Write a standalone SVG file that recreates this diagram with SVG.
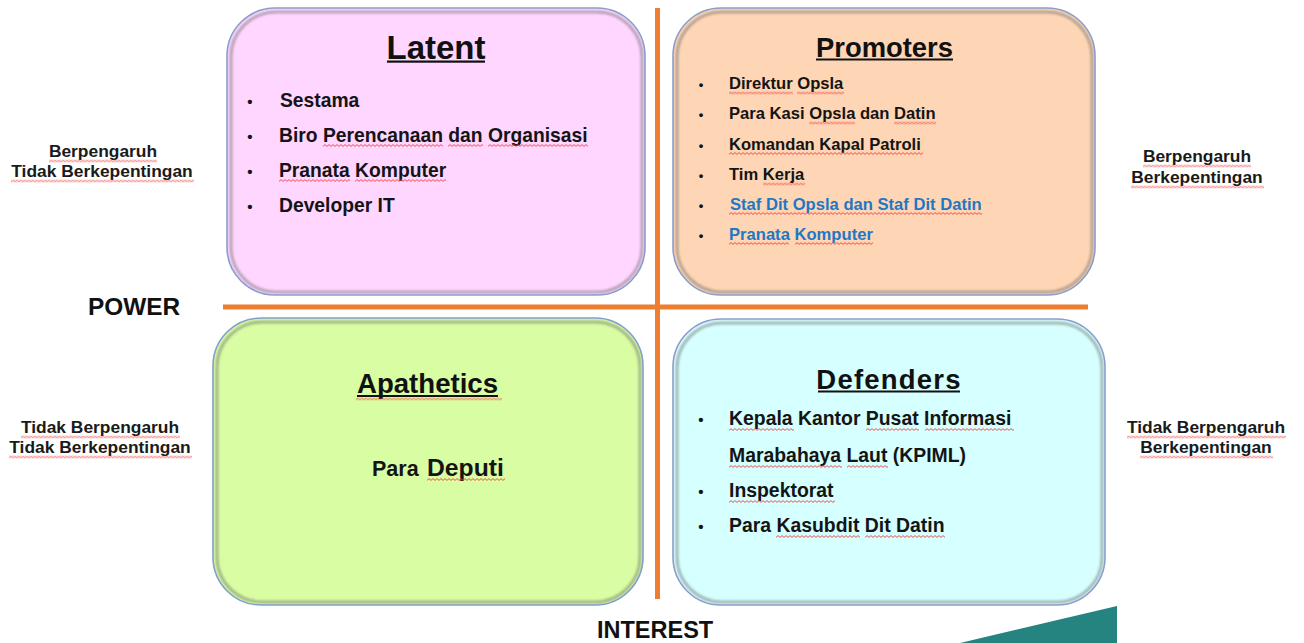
<svg xmlns="http://www.w3.org/2000/svg" width="1304" height="643" viewBox="0 0 1304 643">
  <defs>
    <pattern id="wavy" width="4" height="3" patternUnits="userSpaceOnUse">
      <path d="M0,2.4 L2,0.6 L4,2.4" fill="none" stroke="#f23c3c" stroke-width="0.9"/>
    </pattern>
    <filter id="soft" x="-5%" y="-5%" width="110%" height="110%">
      <feGaussianBlur stdDeviation="1.3"/>
    </filter>
    <style>
      .box-edge { fill: none; stroke: #8a9dcc; stroke-width: 1.6; }
      .box-inner { fill: none; stroke: #6f6f6f; stroke-opacity: 0.5; stroke-width: 3; filter: url(#soft); }
      .title { font-family: "Liberation Sans", Arial, sans-serif; font-weight: bold; fill: #111; text-anchor: middle; }
      .item { font-family: "Liberation Sans", Arial, sans-serif; font-weight: bold; fill: #141414; }
      .blue { fill: #1f78c4; }
      .bullet { font-family: "Liberation Sans", Arial, sans-serif; font-weight: bold; fill: #141414; text-anchor: middle; }
      .side { font-family: "Liberation Sans", Arial, sans-serif; font-weight: bold; font-size: 17.4px; fill: #1a1a1a; text-anchor: middle; }
      .axis { font-family: "Liberation Sans", Arial, sans-serif; font-weight: bold; fill: #111; }
      .uline { fill: #111; }
      .axisline { stroke: #ed7d31; fill: none; }
    </style>
  </defs>

  <rect width="1304" height="643" fill="#ffffff"/>

  <!-- axis lines -->
  <g id="connectors">
    <line class="axisline" x1="657.5" y1="8" x2="657.5" y2="599" stroke-width="5"/>
    <line class="axisline" x1="223" y1="307" x2="1088" y2="307" stroke-width="5"/>
  </g>

  <!-- Latent -->
  <g id="latent">
    <rect x="227" y="8" width="418" height="287" rx="48" fill="#ffd6ff"/>
    <rect class="box-inner" x="231" y="12" width="411" height="280" rx="45"/>
    <rect class="box-edge" x="227" y="8" width="418" height="287" rx="48"/>
    <text class="title" x="436" y="59" font-size="33">Latent</text>
    <rect class="uline" x="387" y="60.5" width="98" height="2.2"/>
    <text class="bullet" x="250" y="107" font-size="15">•</text>
    <text class="bullet" x="250" y="142" font-size="15">•</text>
    <text class="bullet" x="250" y="177" font-size="15">•</text>
    <text class="bullet" x="250" y="212" font-size="15">•</text>
    <text class="item" x="280" y="107" font-size="19.3">Sestama</text>
    <text class="item" x="279" y="142" font-size="19.3">Biro Perencanaan dan Organisasi</text>
    <text class="item" x="279" y="177" font-size="19.3">Pranata Komputer</text>
    <text class="item" x="279" y="212" font-size="19.3">Developer IT</text>
    <rect transform="translate(323,144)" width="120" height="3" fill="url(#wavy)"/>
    <rect transform="translate(448,144)" width="35" height="3" fill="url(#wavy)"/>
    <rect transform="translate(488,144)" width="100" height="3" fill="url(#wavy)"/>
    <rect transform="translate(279,179)" width="71" height="3" fill="url(#wavy)"/>
    <rect transform="translate(355,179)" width="91" height="3" fill="url(#wavy)"/>
  </g>

  <!-- Promoters -->
  <g id="promoters">
    <rect x="673" y="8" width="422" height="287" rx="48" fill="#fed6b6"/>
    <rect class="box-inner" x="677" y="12" width="415" height="280" rx="45"/>
    <rect class="box-edge" x="673" y="8" width="422" height="287" rx="48"/>
    <text class="title" x="884.5" y="57" font-size="27.4">Promoters</text>
    <rect class="uline" x="816" y="58.5" width="137" height="2"/>
    <text class="bullet" x="701" y="89" font-size="13">•</text>
    <text class="bullet" x="701" y="119" font-size="13">•</text>
    <text class="bullet" x="701" y="149.5" font-size="13">•</text>
    <text class="bullet" x="701" y="180" font-size="13">•</text>
    <text class="bullet" x="701" y="209.5" font-size="13">•</text>
    <text class="bullet" x="701" y="239.5" font-size="13">•</text>
    <text class="item" x="729" y="89" font-size="16.6">Direktur Opsla</text>
    <text class="item" x="729" y="119" font-size="16.6">Para Kasi Opsla dan Datin</text>
    <text class="item" x="729" y="149.5" font-size="16.6">Komandan Kapal Patroli</text>
    <text class="item" x="729" y="180" font-size="16.6">Tim Kerja</text>
    <text class="item blue" x="730" y="209.5" font-size="16.6">Staf Dit Opsla dan Staf Dit Datin</text>
    <text class="item blue" x="729" y="239.5" font-size="16.6">Pranata Komputer</text>
    <rect transform="translate(729,91.5)" width="64" height="3" fill="url(#wavy)"/>
    <rect transform="translate(797,91.5)" width="47" height="3" fill="url(#wavy)"/>
    <rect transform="translate(809,121.5)" width="46" height="3" fill="url(#wavy)"/>
    <rect transform="translate(894,121.5)" width="42" height="3" fill="url(#wavy)"/>
    <rect transform="translate(729,152)" width="194" height="3" fill="url(#wavy)"/>
    <rect transform="translate(763,182.5)" width="42" height="3" fill="url(#wavy)"/>
    <rect transform="translate(729,212)" width="253" height="3" fill="url(#wavy)"/>
    <rect transform="translate(729,242)" width="60" height="3" fill="url(#wavy)"/>
    <rect transform="translate(795,242)" width="78" height="3" fill="url(#wavy)"/>
  </g>

  <!-- Apathetics -->
  <g id="apathetics">
    <rect x="213" y="318" width="430" height="287" rx="48" fill="#d8fda2"/>
    <rect class="box-inner" x="217" y="322" width="423" height="280" rx="45"/>
    <rect class="box-edge" x="213" y="318" width="430" height="287" rx="48" style="stroke:#7fa0c8"/>
    <text class="title" x="427.5" y="393" font-size="27.6">Apathetics</text>
    <rect class="uline" x="357" y="395" width="141" height="2"/>
    <rect transform="translate(356,397.5)" width="146" height="3" fill="url(#wavy)"/>
    <text class="item" x="372" y="476" font-size="21.5">Para</text>
    <text class="item" x="427" y="476" font-size="24.7">Deputi</text>
    <rect transform="translate(427,478)" width="78" height="3" fill="url(#wavy)"/>
  </g>

  <!-- Defenders -->
  <g id="defenders">
    <rect x="673" y="319" width="432" height="286" rx="48" fill="#d6ffff"/>
    <rect class="box-inner" x="677" y="323" width="425" height="279" rx="45"/>
    <rect class="box-edge" x="673" y="319" width="432" height="286" rx="48"/>
    <text class="title" x="889" y="389" font-size="27.5" letter-spacing="1.2">Defenders</text>
    <rect class="uline" x="818" y="390.5" width="142" height="2"/>
    <text class="bullet" x="701" y="425" font-size="15">•</text>
    <text class="bullet" x="701" y="497" font-size="15">•</text>
    <text class="bullet" x="701" y="532" font-size="15">•</text>
    <text class="item" x="729" y="425" font-size="19.4">Kepala Kantor Pusat Informasi</text>
    <text class="item" x="729" y="462" font-size="19.4">Marabahaya Laut (KPIML)</text>
    <text class="item" x="729" y="497" font-size="19.4">Inspektorat</text>
    <text class="item" x="729" y="532" font-size="19.4">Para Kasubdit Dit Datin</text>
    <rect transform="translate(729,428)" width="65" height="3" fill="url(#wavy)"/>
    <rect transform="translate(866,428)" width="53" height="3" fill="url(#wavy)"/>
    <rect transform="translate(925,428)" width="89" height="3" fill="url(#wavy)"/>
    <rect transform="translate(729,465)" width="113" height="3" fill="url(#wavy)"/>
    <rect transform="translate(847,465)" width="41" height="3" fill="url(#wavy)"/>
    <rect transform="translate(729,500)" width="106" height="3" fill="url(#wavy)"/>
    <rect transform="translate(776,535)" width="84" height="3" fill="url(#wavy)"/>
    <rect transform="translate(865,535)" width="80" height="3" fill="url(#wavy)"/>
  </g>

  <!-- side labels -->
  <g id="label-left-top">
    <text class="side" x="103" y="157">Berpengaruh</text>
    <text class="side" x="102" y="177">Tidak Berkepentingan</text>
    <rect transform="translate(49,159.5)" width="108" height="3" fill="url(#wavy)"/>
    <rect transform="translate(11,179.5)" width="183" height="3" fill="url(#wavy)"/>
  </g>
  <g id="label-right-top">
    <text class="side" x="1197" y="162">Berpengaruh</text>
    <text class="side" x="1197" y="183">Berkepentingan</text>
    <rect transform="translate(1143,164.5)" width="108" height="3" fill="url(#wavy)"/>
    <rect transform="translate(1131,185.5)" width="133" height="3" fill="url(#wavy)"/>
  </g>
  <g id="label-left-bottom">
    <text class="side" x="100" y="433">Tidak Berpengaruh</text>
    <text class="side" x="100" y="453">Tidak Berkepentingan</text>
    <rect transform="translate(21,435.5)" width="159" height="3" fill="url(#wavy)"/>
    <rect transform="translate(9,455.5)" width="183" height="3" fill="url(#wavy)"/>
  </g>
  <g id="label-right-bottom">
    <text class="side" x="1206" y="433">Tidak Berpengaruh</text>
    <text class="side" x="1206" y="453">Berkepentingan</text>
    <rect transform="translate(1127,435.5)" width="159" height="3" fill="url(#wavy)"/>
    <rect transform="translate(1140,455.5)" width="133" height="3" fill="url(#wavy)"/>
  </g>

  <g id="axis-power">
    <text class="axis" x="88" y="315" font-size="24.4">POWER</text>
  </g>
  <g id="axis-interest">
    <text class="axis" x="597" y="638" font-size="23.5">INTEREST</text>
  </g>

  <!-- decorative corner -->
  <polygon points="960,643 1117,606 1117,643" fill="#258380"/>
</svg>
